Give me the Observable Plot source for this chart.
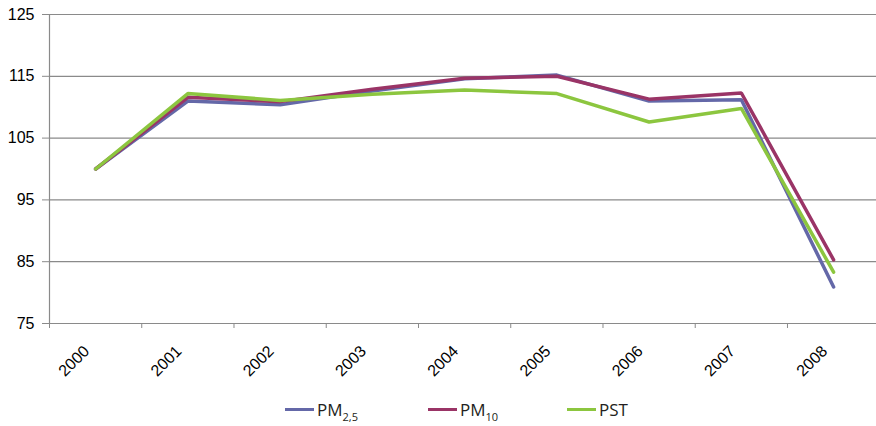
<!DOCTYPE html>
<html>
<head>
<meta charset="utf-8">
<script src="https://cdn.jsdelivr.net/npm/d3@7"></script>
<script src="https://cdn.jsdelivr.net/npm/@observablehq/plot@0.6"></script>
<style>
  html, body { margin: 0; padding: 0; background: #fff; overflow: hidden; }
  #wrap { position: relative; width: 876px; height: 426px; }
  .leg { position: absolute; top: 398px; display: flex; align-items: center; font-family: "Liberation Sans Narrow", "Open Sans", sans-serif; font-size: 17px; color: #231f20; }
  .leg .sw { width: 29px; height: 3.5px; margin-right: 3px; }
  .leg sub { font-size: 11px; vertical-align: -5px; line-height: 0; }
</style>
</head>
<body>
<div id="wrap"></div>
<script>
const years = [2000, 2001, 2002, 2003, 2004, 2005, 2006, 2007, 2008];
const pm25 = [100, 111.0, 110.4, 112.6, 114.6, 115.2, 111.0, 111.2, 80.9];
const pm10 = [100, 111.6, 110.9, 112.9, 114.7, 115.0, 111.3, 112.3, 85.3];
const pst  = [100, 112.2, 111.1, 112.1, 112.8, 112.2, 107.6, 109.8, 83.3];
const seriesNames = ["PM2,5", "PM10", "PST"];
const seriesColors = ["#6468a8", "#9a3466", "#8cc63f"];
const yTicks = [75, 85, 95, 105, 115, 125];

const seriesValues = [pm25, pm10, pst];
const rows = [];
seriesNames.forEach((s, i) => years.forEach((yr, j) => rows.push({series: s, year: yr, value: seriesValues[i][j]})));
const bounds = years.map(y => y - 0.5).concat([years[years.length - 1] + 0.5]);

const chart = Plot.plot({
  width: 876,
  height: 390,
  marginLeft: 49,
  marginRight: 0,
  marginTop: 14,
  marginBottom: 67,
  style: { fontFamily: "'Liberation Sans', Arial, sans-serif", fontSize: "16px", color: "#000", background: "#fff" },
  x: { domain: [1999.5, 2008.465], axis: null },
  y: { domain: [75, 125], axis: null },
  color: { domain: seriesNames, range: seriesColors },
  marks: [
    Plot.gridY(yTicks, { stroke: "#8a8a8a", strokeOpacity: 1, strokeWidth: 1.2 }),
    Plot.axisY(yTicks, { tickSize: 7, tickPadding: 8, stroke: "#8a8a8a", tickFormat: d => String(d), fontSize: 16, label: null }),
    Plot.ruleX([1999.5], { y1: 75, y2: 125, stroke: "#8a8a8a", strokeWidth: 1.2 }),
    Plot.axisX(bounds, { tickSize: 5, tickFormat: () => "", stroke: "#8a8a8a", label: null }),
    Plot.axisX(years, { tickSize: 0, tickPadding: 16, tickRotate: -45, tickFormat: d => String(d), fontSize: 16, dx: -9, dy: 9, label: null }),
    Plot.line(rows, { x: "year", y: "value", z: "series", stroke: "series", strokeWidth: 3.5, strokeLinejoin: "miter" })
  ]
});
const wrap = document.getElementById("wrap");
wrap.appendChild(chart);

const legX = [285, 428, 567];
seriesNames.forEach((s, i) => {
  const d = document.createElement("div");
  d.className = "leg";
  d.style.left = legX[i] + "px";
  const sw = document.createElement("span");
  sw.className = "sw";
  sw.style.background = seriesColors[i];
  d.appendChild(sw);
  const t = document.createElement("span");
  const m = s.match(/^PM(.+)$/);
  if (m) { t.innerHTML = "PM<sub>" + m[1] + "</sub>"; } else { t.textContent = s; }
  d.appendChild(t);
  wrap.appendChild(d);
});
</script>
</body>
</html>
